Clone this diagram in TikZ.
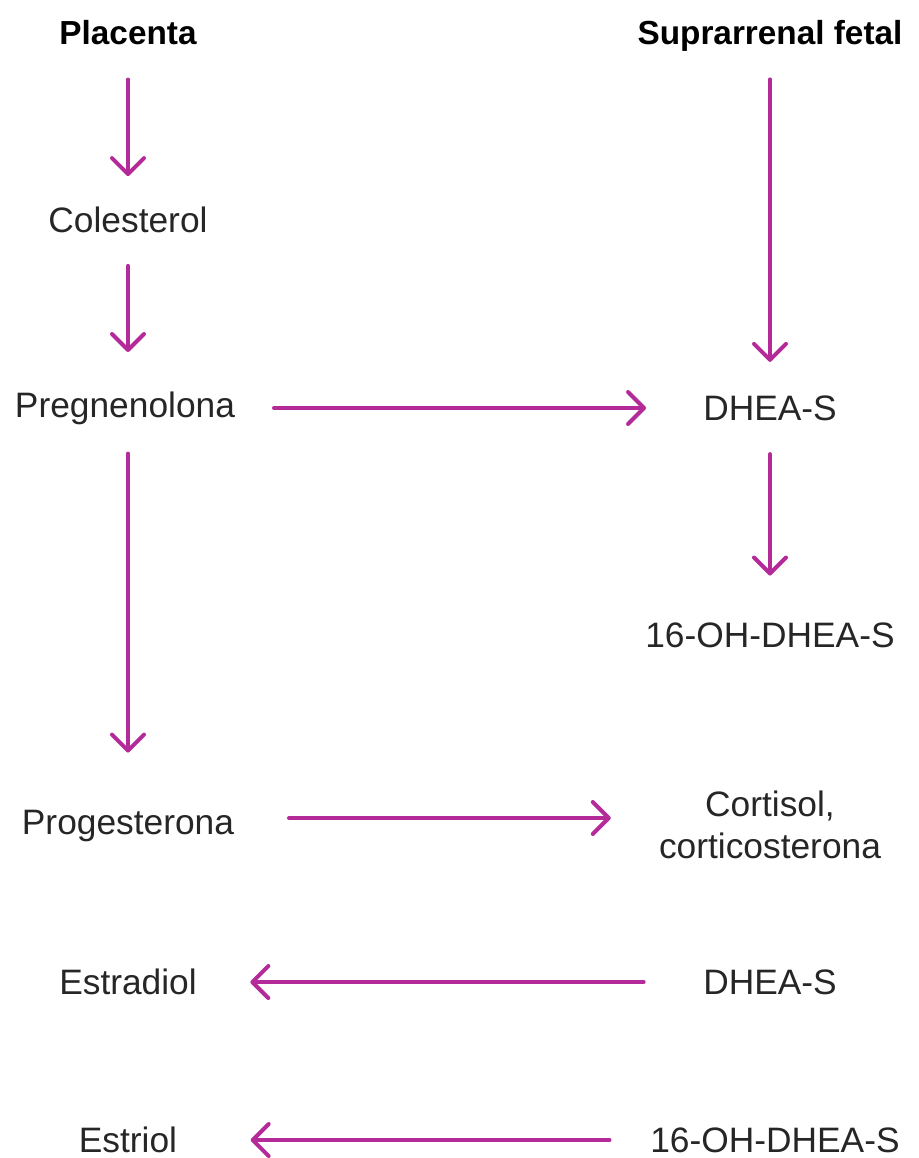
\documentclass[tikz,border=0pt]{standalone}
\usepackage{fontspec}
\setmainfont{Liberation Sans}
\usetikzlibrary{arrows.meta,positioning}
\definecolor{magenta}{RGB}{180,42,152}
\tikzset{
  txt/.style={font=\fontsize{26.5}{31}\selectfont, text=black!85, inner sep=0pt, align=center},
  head/.style={font=\fontsize{25}{30}\selectfont\bfseries, inner sep=0pt},
  flow/.style={draw=magenta, line width=3pt, line cap=round,
    -{Straight Barb[length=12pt,width=24pt,line cap=round,line join=round]}}
}
\begin{document}
\begin{tikzpicture}[x=0.75pt,y=-0.75pt]
      \useasboundingbox (0,0) rectangle (919,1158);
      % column heads
      \node[head] (pl) at (128,33) {Placenta};
      \node[head, anchor=base] (sf) at (pl.base -| 770,0) {Suprarrenal fetal};
      % placenta side
      \node[txt] (col) at (128,220) {Colesterol};
      \node[txt] (preg) at (125,408) {Pregnenolona};
      \node[txt] (prog) at (128,826) {Progesterona};
      \node[txt] (estd) at (128,982) {Estradiol};
      \node[txt] (estr) at (128,1140) {Estriol};
      % fetal side
      \node[txt] (dhea) at (770,408) {DHEA-S};
      \node[txt] (oh) at (770,635) {16-OH-DHEA-S};
      \node[txt] (cort) at (770,825) {Cortisol,\\corticosterona};
      \node[txt] (dhea2) at (770,982) {DHEA-S};
      \node[txt] (oh2) at (775,1140) {16-OH-DHEA-S};
      % Directed edges
      \draw [flow, shorten <=25.5pt, shorten >=23pt] (pl) -- (col);
      \draw [flow, shorten <=24.5pt, shorten >=42pt] (col) -- (col |- preg);
      \draw [flow, shorten <=21.6pt, shorten >=43pt] (preg.south -| pl) -- (prog.north -| pl);
      \draw [flow, shorten <=20.5pt, shorten >=25pt] (sf.south) -- (dhea);
      \draw [flow, shorten <=25pt, shorten >=35pt] (dhea) -- (oh);
      \draw [flow, shorten <=29pt, shorten >=42.7pt] (preg) -- (dhea);
      \draw [flow, shorten <=41pt, shorten >=36pt] ([yshift=6pt]prog.east) -- ([yshift=6pt]prog.east -| cort.west);
      \draw [flow, shorten <=44.5pt, shorten >=40pt] (dhea2) -- (estd);
      \draw [flow, shorten <=30.4pt, shorten >=55pt] (oh2) -- (estr);
    \end{tikzpicture}
\end{document}
